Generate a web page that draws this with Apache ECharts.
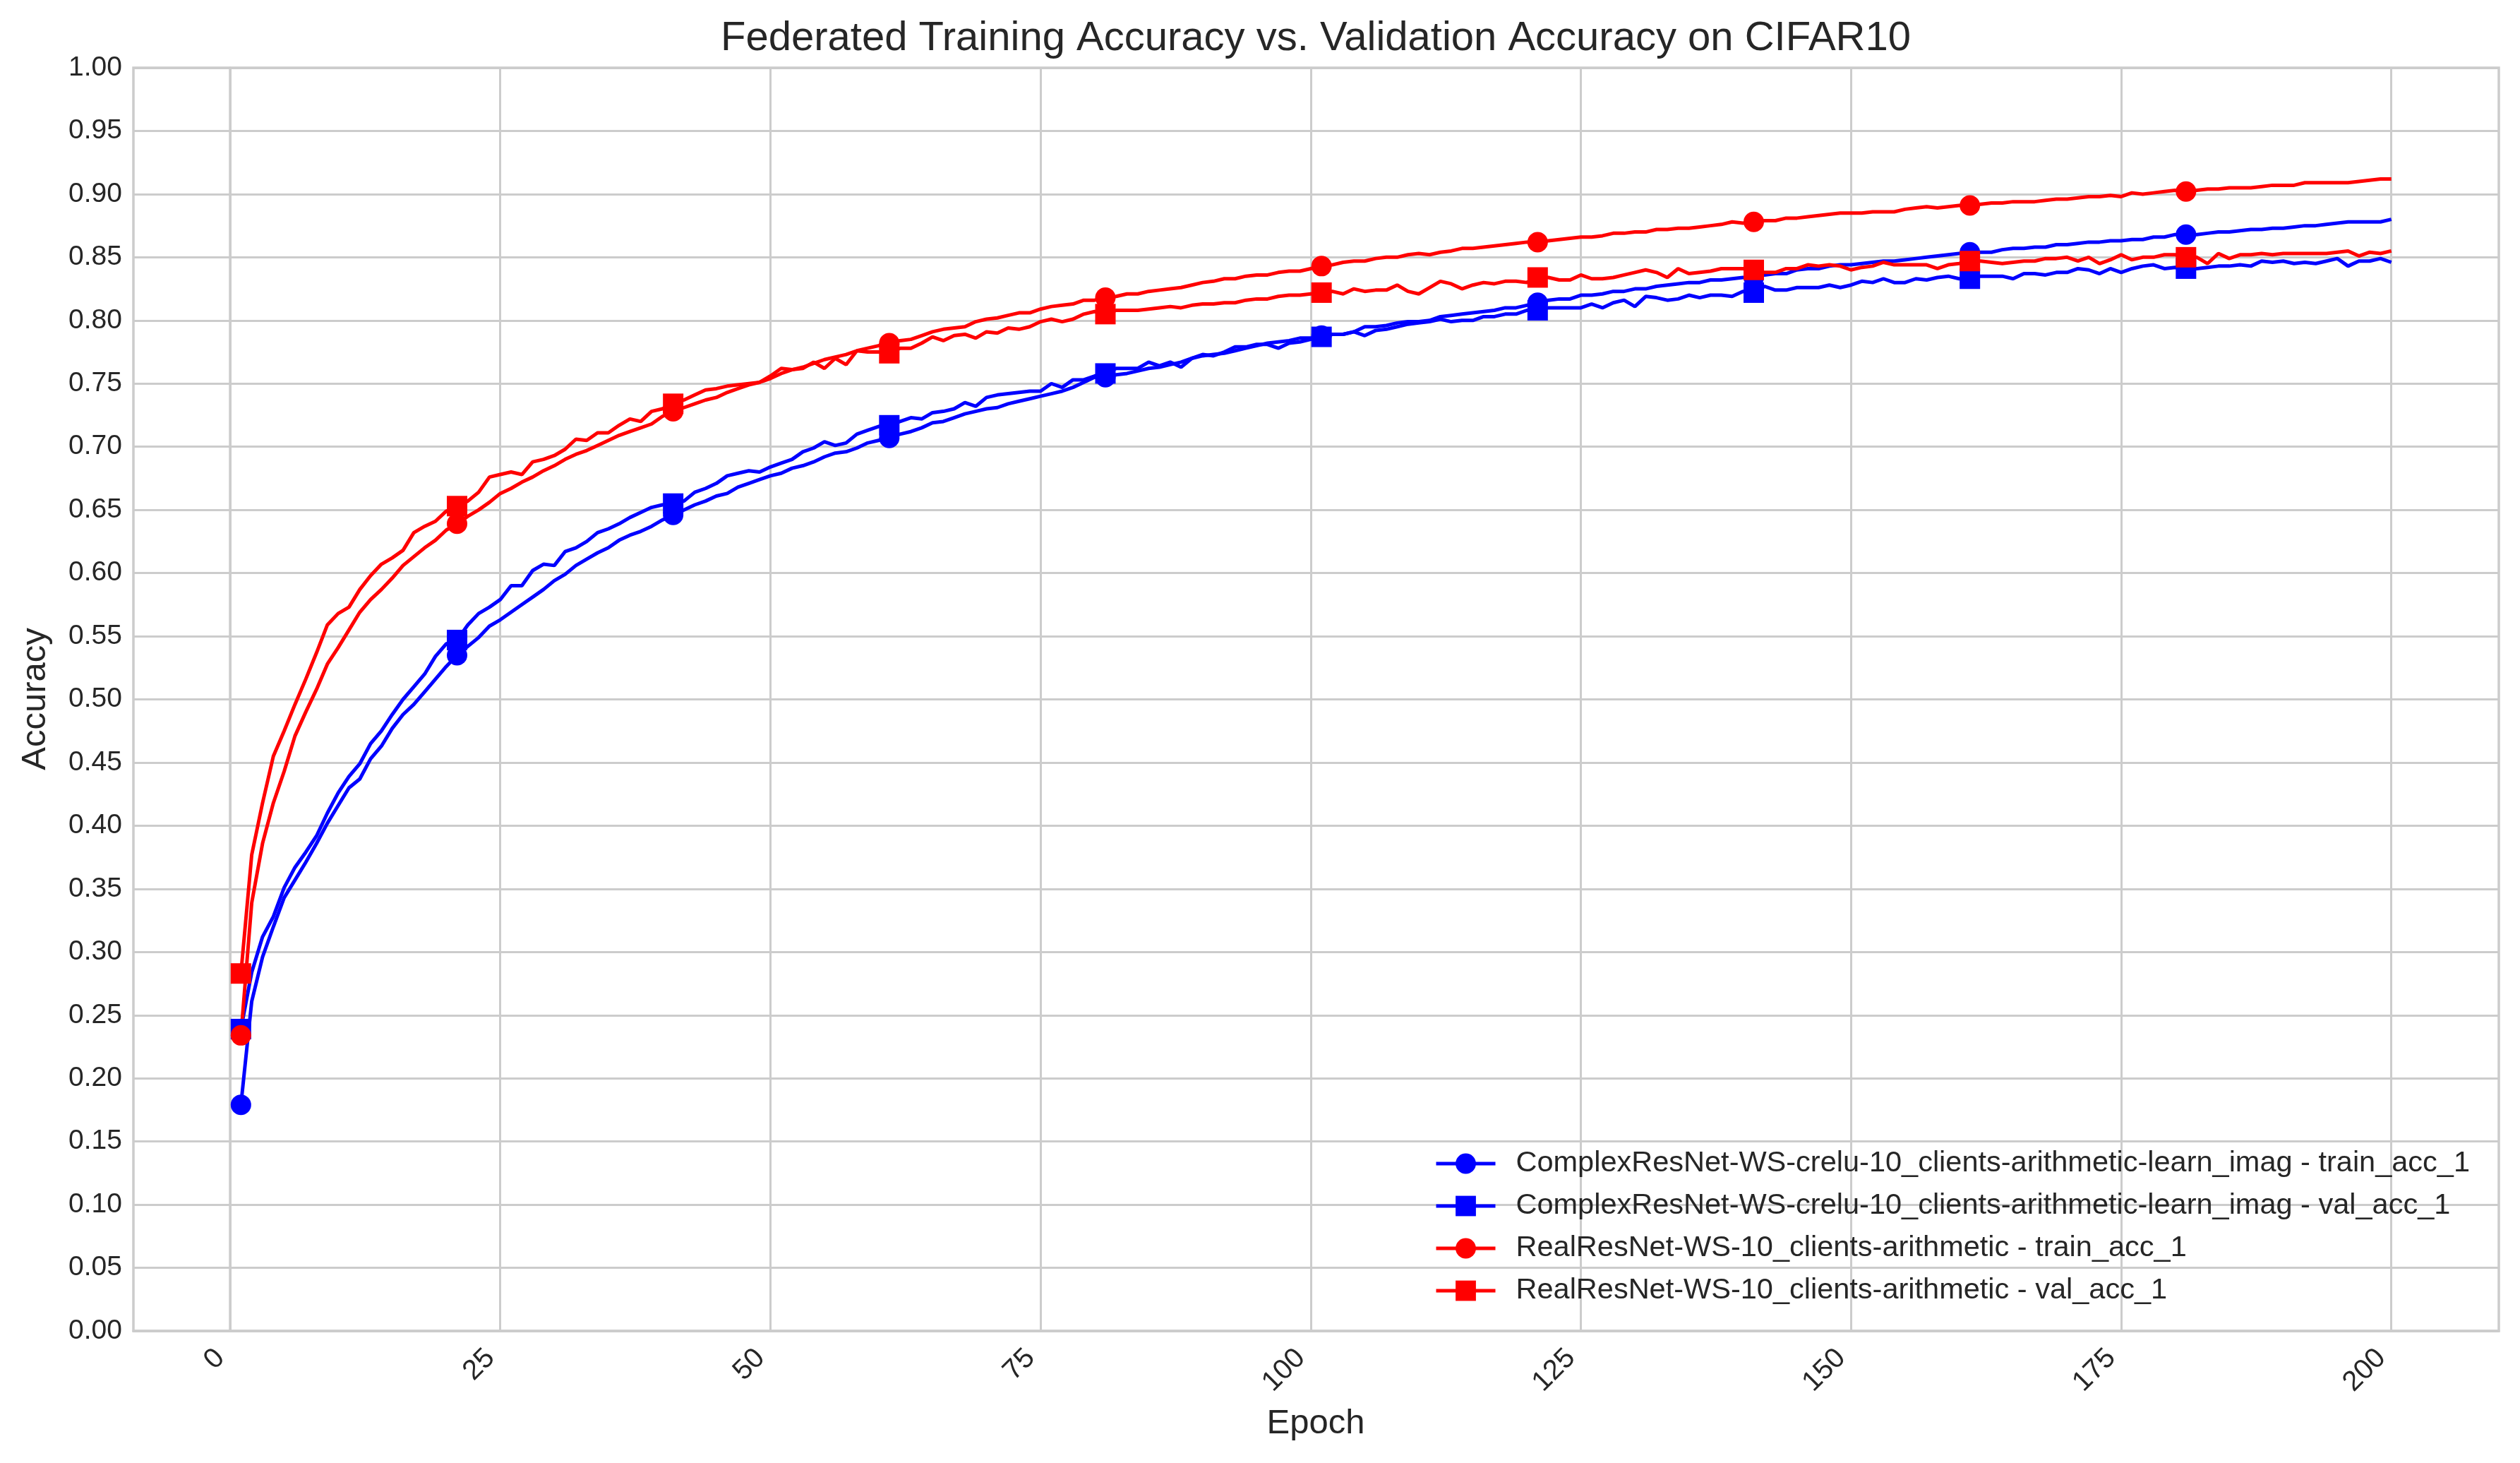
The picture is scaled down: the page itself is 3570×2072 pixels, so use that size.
<!DOCTYPE html>
<html>
<head>
<meta charset="utf-8">
<script src="https://cdn.jsdelivr.net/npm/echarts@6/dist/echarts.min.js"></script>
<style>
html, body { margin: 0; padding: 0; background: #fff; }
#chart { width: 3570px; height: 2072px; }
</style>
</head>
<body>
<div id="chart"></div>
<script>
// values per epoch (1..200)
var complexTrain = [
  0.179, 0.261, 0.296, 0.320, 0.343, 0.357, 0.371, 0.386, 0.402, 0.416,
  0.430, 0.437, 0.453, 0.463, 0.477, 0.488, 0.496, 0.506, 0.516, 0.526,
  0.535, 0.542, 0.549, 0.558, 0.563, 0.569, 0.575, 0.581, 0.587, 0.594,
  0.599, 0.606, 0.611, 0.616, 0.620, 0.626, 0.630, 0.633, 0.637, 0.642,
  0.646, 0.650, 0.654, 0.657, 0.661, 0.663, 0.668, 0.671, 0.674, 0.677,
  0.679, 0.683, 0.685, 0.688, 0.692, 0.695, 0.696, 0.699, 0.703, 0.705,
  0.707, 0.710, 0.712, 0.715, 0.719, 0.720, 0.723, 0.726, 0.728, 0.730,
  0.731, 0.734, 0.736, 0.738, 0.740, 0.742, 0.744, 0.747, 0.751, 0.755,
  0.755, 0.757, 0.758, 0.760, 0.762, 0.763, 0.765, 0.767, 0.770, 0.772,
  0.773, 0.774, 0.776, 0.778, 0.780, 0.782, 0.783, 0.784, 0.786, 0.786,
  0.788, 0.789, 0.789, 0.791, 0.795, 0.795, 0.796, 0.798, 0.799, 0.799,
  0.800, 0.803, 0.804, 0.805, 0.806, 0.807, 0.808, 0.810, 0.810, 0.812,
  0.814, 0.816, 0.817, 0.817, 0.820, 0.820, 0.821, 0.823, 0.823, 0.825,
  0.825, 0.827, 0.828, 0.829, 0.830, 0.830, 0.832, 0.832, 0.833, 0.834,
  0.834, 0.836, 0.837, 0.837, 0.840, 0.841, 0.841, 0.843, 0.844, 0.844,
  0.845, 0.846, 0.847, 0.847, 0.848, 0.849, 0.850, 0.851, 0.852, 0.853,
  0.854, 0.854, 0.854, 0.856, 0.857, 0.857, 0.858, 0.858, 0.860, 0.860,
  0.861, 0.862, 0.862, 0.863, 0.863, 0.864, 0.864, 0.866, 0.866, 0.868,
  0.868, 0.868, 0.869, 0.870, 0.870, 0.871, 0.872, 0.872, 0.873, 0.873,
  0.874, 0.875, 0.875, 0.876, 0.877, 0.878, 0.878, 0.878, 0.878, 0.880
];
var complexVal = [
  0.239, 0.284, 0.312, 0.328, 0.351, 0.367, 0.379, 0.392, 0.410, 0.426,
  0.439, 0.449, 0.465, 0.475, 0.488, 0.500, 0.510, 0.520, 0.534, 0.544,
  0.547, 0.559, 0.568, 0.573, 0.579, 0.590, 0.590, 0.602, 0.607, 0.606,
  0.617, 0.620, 0.625, 0.632, 0.635, 0.639, 0.644, 0.648, 0.652, 0.654,
  0.655, 0.657, 0.664, 0.667, 0.671, 0.677, 0.679, 0.681, 0.680, 0.684,
  0.687, 0.690, 0.696, 0.699, 0.704, 0.701, 0.703, 0.710, 0.713, 0.716,
  0.717, 0.720, 0.723, 0.722, 0.727, 0.728, 0.730, 0.735, 0.732, 0.739,
  0.741, 0.742, 0.743, 0.744, 0.744, 0.750, 0.747, 0.753, 0.753, 0.756,
  0.758, 0.762, 0.762, 0.762, 0.767, 0.764, 0.767, 0.763, 0.770, 0.773,
  0.772, 0.775, 0.779, 0.779, 0.781, 0.781, 0.778, 0.782, 0.783, 0.785,
  0.787, 0.789, 0.789, 0.791, 0.788, 0.792, 0.793, 0.795, 0.797, 0.798,
  0.799, 0.801, 0.799, 0.800, 0.800, 0.803, 0.803, 0.805, 0.805, 0.808,
  0.808, 0.810, 0.810, 0.810, 0.810, 0.813, 0.810, 0.814, 0.816, 0.811,
  0.819, 0.818, 0.816, 0.817, 0.820, 0.818, 0.820, 0.820, 0.819, 0.823,
  0.822, 0.827, 0.824, 0.824, 0.826, 0.826, 0.826, 0.828, 0.826, 0.828,
  0.831, 0.830, 0.833, 0.830, 0.830, 0.833, 0.832, 0.834, 0.835, 0.833,
  0.833, 0.835, 0.835, 0.835, 0.833, 0.837, 0.837, 0.836, 0.838, 0.838,
  0.841, 0.840, 0.837, 0.841, 0.838, 0.841, 0.843, 0.844, 0.841, 0.842,
  0.841, 0.841, 0.842, 0.843, 0.843, 0.844, 0.843, 0.847, 0.846, 0.847,
  0.845, 0.846, 0.845, 0.847, 0.849, 0.843, 0.847, 0.847, 0.849, 0.846
];
var realTrain = [
  0.234, 0.339, 0.386, 0.418, 0.443, 0.471, 0.490, 0.508, 0.528, 0.541,
  0.555, 0.569, 0.579, 0.587, 0.596, 0.606, 0.613, 0.620, 0.626, 0.634,
  0.639, 0.645, 0.650, 0.656, 0.663, 0.667, 0.672, 0.676, 0.681, 0.685,
  0.690, 0.694, 0.697, 0.701, 0.705, 0.709, 0.712, 0.715, 0.718, 0.724,
  0.728, 0.731, 0.734, 0.737, 0.739, 0.743, 0.746, 0.749, 0.751, 0.754,
  0.758, 0.761, 0.763, 0.766, 0.769, 0.771, 0.773, 0.776, 0.778, 0.780,
  0.782, 0.784, 0.785, 0.788, 0.791, 0.793, 0.794, 0.795, 0.799, 0.801,
  0.802, 0.804, 0.806, 0.806, 0.809, 0.811, 0.812, 0.813, 0.816, 0.816,
  0.818, 0.819, 0.821, 0.821, 0.823, 0.824, 0.825, 0.826, 0.828, 0.830,
  0.831, 0.833, 0.833, 0.835, 0.836, 0.836, 0.838, 0.839, 0.839, 0.841,
  0.843, 0.844, 0.846, 0.847, 0.847, 0.849, 0.850, 0.850, 0.852, 0.853,
  0.852, 0.854, 0.855, 0.857, 0.857, 0.858, 0.859, 0.860, 0.861, 0.862,
  0.862, 0.863, 0.864, 0.865, 0.866, 0.866, 0.867, 0.869, 0.869, 0.870,
  0.870, 0.872, 0.872, 0.873, 0.873, 0.874, 0.875, 0.876, 0.878, 0.877,
  0.878, 0.879, 0.879, 0.881, 0.881, 0.882, 0.883, 0.884, 0.885, 0.885,
  0.885, 0.886, 0.886, 0.886, 0.888, 0.889, 0.890, 0.889, 0.890, 0.891,
  0.891, 0.892, 0.893, 0.893, 0.894, 0.894, 0.894, 0.895, 0.896, 0.896,
  0.897, 0.898, 0.898, 0.899, 0.898, 0.901, 0.900, 0.901, 0.902, 0.903,
  0.902, 0.903, 0.904, 0.904, 0.905, 0.905, 0.905, 0.906, 0.907, 0.907,
  0.907, 0.909, 0.909, 0.909, 0.909, 0.909, 0.910, 0.911, 0.912, 0.912
];
var realVal = [
  0.283, 0.377, 0.418, 0.455, 0.475, 0.496, 0.516, 0.537, 0.559, 0.568,
  0.573, 0.587, 0.598, 0.607, 0.612, 0.618, 0.632, 0.637, 0.641, 0.649,
  0.653, 0.657, 0.664, 0.676, 0.678, 0.680, 0.678, 0.688, 0.690, 0.693,
  0.698, 0.706, 0.705, 0.711, 0.711, 0.717, 0.722, 0.720, 0.728, 0.730,
  0.734, 0.737, 0.741, 0.745, 0.746, 0.748, 0.749, 0.750, 0.751, 0.756,
  0.762, 0.761, 0.762, 0.767, 0.762, 0.770, 0.765, 0.776, 0.775, 0.775,
  0.774, 0.778, 0.778, 0.782, 0.787, 0.784, 0.788, 0.789, 0.786, 0.791,
  0.790, 0.794, 0.793, 0.795, 0.799, 0.801, 0.799, 0.801, 0.805, 0.807,
  0.805, 0.808, 0.808, 0.808, 0.809, 0.810, 0.811, 0.810, 0.812, 0.813,
  0.813, 0.814, 0.814, 0.816, 0.817, 0.817, 0.819, 0.820, 0.820, 0.821,
  0.822, 0.823, 0.821, 0.825, 0.823, 0.824, 0.824, 0.828, 0.823, 0.821,
  0.826, 0.831, 0.829, 0.825, 0.828, 0.830, 0.829, 0.831, 0.831, 0.830,
  0.834, 0.834, 0.832, 0.832, 0.836, 0.833, 0.833, 0.834, 0.836, 0.838,
  0.840, 0.838, 0.834, 0.841, 0.837, 0.838, 0.839, 0.841, 0.841, 0.841,
  0.840, 0.838, 0.838, 0.841, 0.841, 0.844, 0.843, 0.844, 0.843, 0.840,
  0.842, 0.843, 0.846, 0.844, 0.844, 0.844, 0.844, 0.841, 0.844, 0.845,
  0.847, 0.847, 0.846, 0.845, 0.846, 0.847, 0.847, 0.849, 0.849, 0.850,
  0.847, 0.850, 0.845, 0.848, 0.852, 0.848, 0.850, 0.850, 0.852, 0.852,
  0.850, 0.850, 0.845, 0.853, 0.849, 0.852, 0.852, 0.853, 0.852, 0.853,
  0.853, 0.853, 0.853, 0.853, 0.854, 0.855, 0.851, 0.854, 0.853, 0.855
];

var seriesNames = [
  'ComplexResNet-WS-crelu-10_clients-arithmetic-learn_imag - train_acc_1',
  'ComplexResNet-WS-crelu-10_clients-arithmetic-learn_imag - val_acc_1',
  'RealResNet-WS-10_clients-arithmetic - train_acc_1',
  'RealResNet-WS-10_clients-arithmetic - val_acc_1'
];
var xTicks = [0, 25, 50, 75, 100, 125, 150, 175, 200];
var markEvery = 20;

var textColor = '#262626';
var gridColor = '#cccccc';
var font = 'Liberation Sans, Arial, sans-serif';

function makeSeries(name, values, color, symbol) {
  return {
    name: name,
    type: 'line',
    symbol: symbol,
    symbolSize: 29,
    showAllSymbol: true,
    lineStyle: { width: 5, color: color },
    itemStyle: { color: color },
    emphasis: { disabled: true },
    data: values.map(function (v, i) {
      var p = [i + 1, v];
      return i % markEvery === 0 ? p : { value: p, symbol: 'none' };
    })
  };
}

var myChart = echarts.init(document.getElementById('chart'));
var option = {
  animation: false,
  backgroundColor: '#ffffff',
  textStyle: { fontFamily: font },
  grid: {
    left: 189, right: 30, top: 96, bottom: 187,
    show: true, borderColor: gridColor, borderWidth: 3.5, backgroundColor: 'transparent'
  },
  graphic: [
    {
      type: 'text', x: 1864, y: 55,
      style: { text: 'Federated Training Accuracy vs. Validation Accuracy on CIFAR10',
        fontSize: 58, fontFamily: font, fill: textColor, align: 'center', verticalAlign: 'middle' }
    },
    {
      type: 'text', x: 1864, y: 2016,
      style: { text: 'Epoch', fontSize: 49, fontFamily: font, fill: textColor,
        align: 'center', verticalAlign: 'middle' }
    },
    {
      type: 'text', x: 50, y: 990, rotation: Math.PI / 2,
      style: { text: 'Accuracy', fontSize: 49, fontFamily: font, fill: textColor,
        align: 'center', verticalAlign: 'middle' }
    }
  ],
  legend: {
    orient: 'vertical',
    left: 2027,
    top: 1622,
    itemWidth: 84,
    itemHeight: 36,
    itemGap: 18,
    lineStyle: { width: 5 },
    textStyle: { fontSize: 41.5, color: textColor, fontFamily: font, padding: [0, 0, 0, 24] },
    data: seriesNames
  },
  xAxis: {
    type: 'value',
    min: -8.95,
    max: 209.95,
    axisLine: { show: true, lineStyle: { color: gridColor, width: 3.5 } },
    axisTick: { show: false, customValues: xTicks },
    axisLabel: {
      customValues: xTicks, rotate: 45, margin: 18, padding: [0, 20, 0, 0],
      fontSize: 40, color: textColor, fontFamily: font
    },
    splitLine: { show: true, lineStyle: { color: gridColor, width: 3 } }
  },
  yAxis: {
    type: 'value',
    min: 0,
    max: 1,
    interval: 0.05,
    axisLine: { show: true, lineStyle: { color: gridColor, width: 3.5 } },
    axisTick: { show: false },
    axisLabel: {
      margin: 16, fontSize: 39, color: textColor, fontFamily: font,
      formatter: function (v) { return v.toFixed(2); }
    },
    splitLine: { show: true, lineStyle: { color: gridColor, width: 3 } }
  },
  series: [
    makeSeries(seriesNames[0], complexTrain, '#0000ff', 'circle'),
    makeSeries(seriesNames[1], complexVal, '#0000ff', 'rect'),
    makeSeries(seriesNames[2], realTrain, '#ff0000', 'circle'),
    makeSeries(seriesNames[3], realVal, '#ff0000', 'rect')
  ]
};
myChart.setOption(option);
</script>
</body>
</html>
